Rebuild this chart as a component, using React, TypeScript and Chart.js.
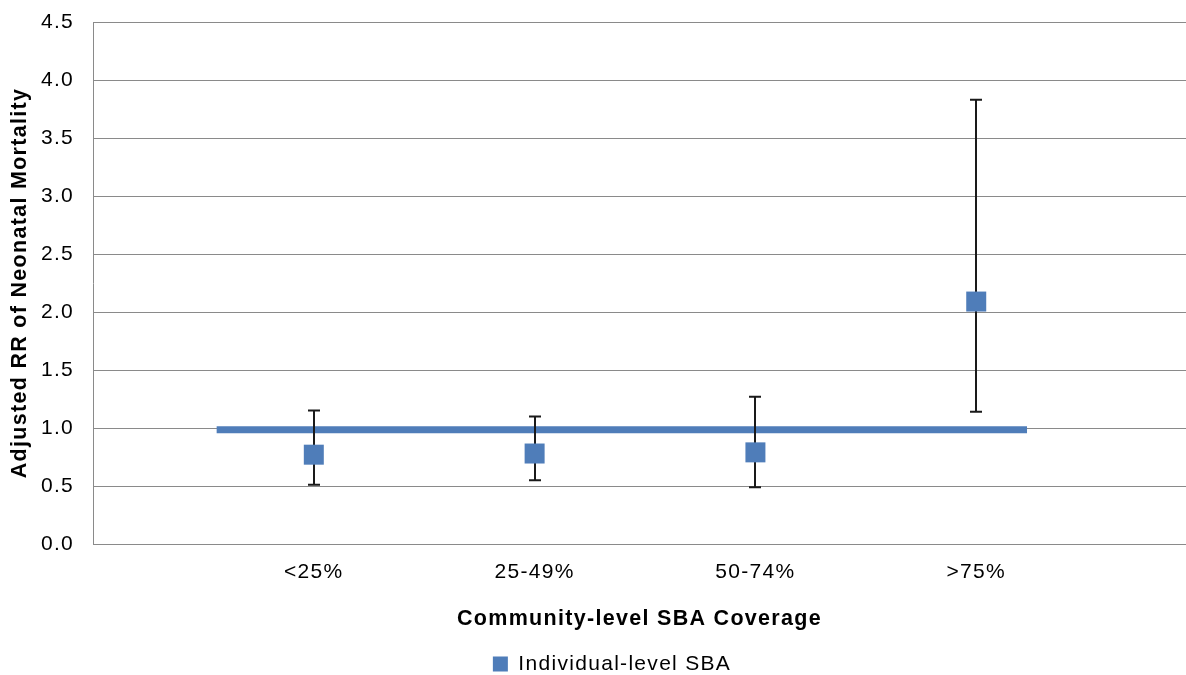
import React, { useEffect, useRef } from "react";
import { Chart, registerables } from "chart.js";

Chart.register(...registerables);

// Community-level SBA coverage groups
const CATEGORIES = ["<25%", "25-49%", "50-74%", ">75%"];

// Adjusted RR of neonatal mortality with 95% CI, individual-level SBA
const RR_VALUES = [0.77, 0.78, 0.79, 2.09];
const CI_LOWER = [0.51, 0.55, 0.49, 1.14];
const CI_UPPER = [1.15, 1.10, 1.27, 3.83];

// Reference line (RR of about 1) across the groups
const REF_LINE_X = [0.56, 4.23];
const REF_LINE_Y = [0.985, 0.985];

// Axis ranges
const X_MAX = 4.95;
const Y_MIN = 0;
const Y_MAX = 4.5;
const Y_STEP = 0.5;

const W = 1186;
const H = 675;

const BLUE = "#4f7db9";
const GRID = "#8a8a8a";
const FONT = "'Liberation Sans', Arial, Helvetica, sans-serif";
const LETTER_SPACING = "1.3px";

// Legend is placed a little lower and to the right of the canvas centre
const LEGEND_SHIFT_X = 19;
const LEGEND_SHIFT_Y = 9.5;

const spacingPlugin = {
  id: "letterSpacing",
  beforeLayout(chart: any) {
    (chart.ctx as any).letterSpacing = LETTER_SPACING;
  },
  beforeDraw(chart: any) {
    (chart.ctx as any).letterSpacing = LETTER_SPACING;
  },
};

const legendOffsetPlugin = {
  id: "legendOffset",
  afterLayout(chart: any) {
    const lg = chart.legend;
    if (!lg) return;
    lg.left += LEGEND_SHIFT_X;
    lg.right += LEGEND_SHIFT_X;
    lg.top += LEGEND_SHIFT_Y;
    lg.bottom += LEGEND_SHIFT_Y;
  },
};

// Confidence-interval whiskers, drawn over the reference line and under the markers
const errorBarPlugin = {
  id: "errorBars",
  afterDatasetDraw(chart: any, args: any) {
    if (args.index !== 1) return;
    const ctx = chart.ctx as CanvasRenderingContext2D;
    const xs = chart.scales.x;
    const ys = chart.scales.y;
    ctx.save();
    ctx.strokeStyle = "#1a1a1a";
    ctx.lineCap = "butt";
    CATEGORIES.forEach((_, i) => {
      const x = Math.round(xs.getPixelForValue(i + 1));
      const yHi = ys.getPixelForValue(CI_UPPER[i]);
      const yLo = ys.getPixelForValue(CI_LOWER[i]);
      ctx.lineWidth = 2;
      ctx.beginPath();
      ctx.moveTo(x, yHi);
      ctx.lineTo(x, yLo);
      ctx.stroke();
      ctx.beginPath();
      ctx.moveTo(x - 6, yHi);
      ctx.lineTo(x + 6, yHi);
      ctx.moveTo(x - 6, yLo);
      ctx.lineTo(x + 6, yLo);
      ctx.stroke();
    });
    ctx.restore();
  },
};

export default function App() {
  const canvasRef = useRef<HTMLCanvasElement | null>(null);

  useEffect(() => {
    document.body.style.margin = "0";
    const canvas = canvasRef.current;
    if (!canvas) return;

    const chart = new Chart(canvas, {
      type: "scatter",
      data: {
        datasets: [
          {
            type: "scatter",
            label: "Individual-level SBA",
            data: RR_VALUES.map((v, i) => ({ x: i + 1, y: v })),
            backgroundColor: BLUE,
            borderColor: BLUE,
            borderWidth: 0,
            pointStyle: "rect",
            pointRadius: 14.14,
            pointHoverRadius: 14.14,
            pointBorderWidth: 0,
          },
          {
            type: "line",
            label: "Reference",
            data: REF_LINE_X.map((x, i) => ({ x, y: REF_LINE_Y[i] })),
            borderColor: BLUE,
            backgroundColor: BLUE,
            borderWidth: 7,
            borderCapStyle: "butt",
            pointRadius: 0,
            fill: false,
          } as any,
        ],
      },
      options: {
        responsive: false,
        animation: false,
        events: [],
        layout: {
          autoPadding: false,
          padding: { top: 22, left: 0, right: 0, bottom: 0 },
        },
        plugins: {
          tooltip: { enabled: false },
          legend: {
            position: "bottom",
            labels: {
              boxWidth: 15,
              boxHeight: 15,
              padding: 0,
              color: "#000",
              font: { family: FONT, size: 21 },
              filter: (item: any) => item.datasetIndex === 0,
            },
          },
        },
        scales: {
          x: {
            type: "linear",
            min: 0,
            max: X_MAX,
            afterBuildTicks: (scale: any) => {
              scale.ticks = CATEGORIES.map((_, i) => ({ value: i + 1 }));
            },
            afterFit: (scale: any) => {
              scale.height = 100;
              scale.paddingLeft = 0;
              scale.paddingRight = 0;
            },
            ticks: {
              autoSkip: false,
              maxRotation: 0,
              padding: 16,
              color: "#000",
              font: { family: FONT, size: 21 },
              callback: (v: any) => CATEGORIES[Number(v) - 1] ?? "",
            },
            grid: { display: false, drawTicks: false },
            border: { display: true, color: GRID, width: 1 },
            title: {
              display: true,
              text: "Community-level SBA Coverage",
              color: "#000",
              font: { family: FONT, size: 21.5, weight: "bold" },
              padding: { top: 0, bottom: 12.5 },
            },
          },
          y: {
            type: "linear",
            min: Y_MIN,
            max: Y_MAX,
            afterFit: (scale: any) => {
              scale.width = 93;
              scale.paddingTop = 0;
              scale.paddingBottom = 0;
            },
            ticks: {
              stepSize: Y_STEP,
              padding: 19,
              color: "#000",
              font: { family: FONT, size: 21 },
              callback: (v: any) => Number(v).toFixed(1),
            },
            grid: { color: GRID, lineWidth: 1, drawTicks: false },
            border: { display: true, color: GRID, width: 1 },
            title: {
              display: true,
              text: "Adjusted RR of Neonatal Mortality",
              color: "#000",
              font: { family: FONT, size: 21.5, weight: "bold" },
              padding: { top: 7, bottom: 0 },
            },
          },
        },
      },
      plugins: [spacingPlugin, legendOffsetPlugin, errorBarPlugin],
    } as any);

    return () => chart.destroy();
  }, []);

  return (
    <div style={{ width: W, height: H, overflow: "hidden", background: "#fff" }}>
      <canvas ref={canvasRef} width={W} height={H} style={{ display: "block" }} />
    </div>
  );
}
